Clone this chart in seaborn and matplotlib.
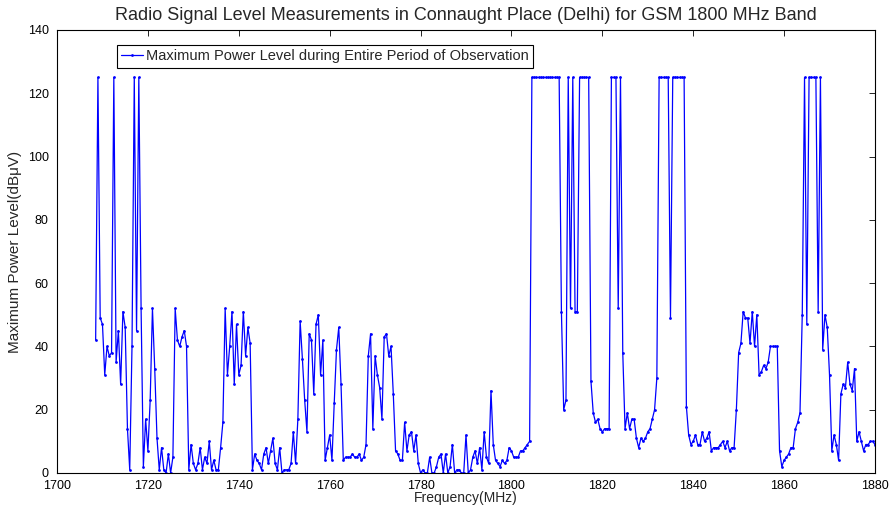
import numpy as np
import pandas as pd
import seaborn as sns
import matplotlib
matplotlib.use("Agg")
import matplotlib.pyplot as plt

# frequency grid (MHz), one reading every 0.5 MHz
freq_start = 1708.5
freq_step = 0.5

# maximum power level (dBuV)
power_dbuv = [
    42, 125, 49,                                   # 1708.5
    47, 31, 40, 37, 38, 125, 35, 45, 28, 51,       # 1710
    46, 14, 1, 40, 125, 45, 125, 52, 2, 17,        # 1715
    7, 23, 52, 33, 11, 1, 8, 1, 0, 6,              # 1720
    0, 5, 52, 42, 40, 43, 45, 40, 1, 9,            # 1725
    3, 1, 3, 8, 1, 5, 3, 10, 1, 4,                 # 1730
    1, 1, 8, 16, 52, 31, 40, 51, 28, 47,           # 1735
    31, 34, 51, 37, 46, 41, 1, 6, 4, 3,            # 1740
    1, 6, 8, 3, 7, 11, 3, 1, 8, 0,                 # 1745
    1, 1, 1, 3, 13, 3, 17, 48, 36, 23,             # 1750
    13, 44, 42, 25, 47, 50, 31, 42, 4, 8,          # 1755
    12, 4, 22, 39, 46, 28, 4, 5, 5, 5,             # 1760
    6, 5, 5, 6, 4, 5, 9, 37, 44, 14,               # 1765
    37, 31, 27, 17, 43, 44, 37, 40, 25, 7,         # 1770
    6, 4, 4, 16, 7, 12, 13, 7, 12, 3,              # 1775
    0, 1, 0, 0, 5, 0, 0, 2, 5, 6,                  # 1780
    0, 6, 0, 2, 9, 0, 1, 1, 0, 0,                  # 1785
    12, 0, 1, 5, 7, 3, 8, 1, 13, 5,                # 1790
    3, 26, 9, 4, 3, 2, 4, 3, 4, 8,                 # 1795
    7, 5, 5, 5, 7, 7, 8, 9, 10, 125,               # 1800
    125, 125, 125, 125, 125, 125, 125, 125, 125, 125,  # 1805
    125, 125, 51, 20, 23, 125, 52, 125, 51, 51,    # 1810
    125, 125, 125, 125, 125, 29, 19, 16, 17, 14,   # 1815
    13, 14, 14, 14, 125, 125, 125, 52, 125, 38,    # 1820
    14, 19, 14, 17, 17, 11, 8, 11, 10, 11,         # 1825
    13, 14, 17, 20, 30, 125, 125, 125, 125, 125,   # 1830
    49, 125, 125, 125, 125, 125, 125, 21, 12, 9,   # 1835
    10, 12, 9, 9, 13, 10, 11, 13, 7, 8,            # 1840
    8, 8, 9, 10, 8, 10, 7, 8, 8, 20,               # 1845
    38, 41, 51, 49, 49, 41, 51, 40, 50, 31,        # 1850
    32, 34, 33, 35, 40, 40, 40, 40, 7, 2,          # 1855
    4, 5, 6, 8, 8, 14, 16, 19, 50, 125,            # 1860
    47, 125, 125, 125, 125, 51, 125, 39, 50, 46,   # 1865
    31, 7, 12, 9, 4, 25, 28, 27, 35, 28,           # 1870
    26, 33, 10, 13, 10, 7, 9, 9, 10, 10,           # 1875
    9,                                             # 1880
]

freq_mhz = freq_start + freq_step * np.arange(len(power_dbuv))
df = pd.DataFrame({"Frequency": freq_mhz, "Power": power_dbuv})

sns.set_theme(style="white")
plt.rcParams["font.family"] = ["Liberation Sans", "DejaVu Sans"]

fig = plt.figure(figsize=(8.91, 5.05), dpi=100)
ax = fig.add_axes([0.064, 0.0634, 0.918, 0.8772])

sns.lineplot(data=df, x="Frequency", y="Power", ax=ax, color="#0000ff",
             linewidth=0.9, marker=".", markersize=4, markeredgewidth=0,
             estimator=None, sort=False,
             label="Maximum Power Level during Entire Period of Observation")

ax.set_xlim(1700, 1880)
ax.set_ylim(0, 140)
ax.set_xticks(np.arange(1700, 1881, 20))
ax.set_yticks(np.arange(0, 141, 20))
ax.tick_params(direction="in", length=4, width=0.6, top=True, right=True,
               labelsize=9, colors="black")
ax.tick_params(axis="x", pad=5)
ax.tick_params(axis="y", pad=6)
for s in ax.spines.values():
    s.set_color("black")
    s.set_linewidth(0.8)

ax.set_title("Radio Signal Level Measurements in Connaught Place (Delhi) for GSM 1800 MHz Band",
             fontsize=13, pad=7)
ax.set_xlabel("Frequency(MHz)", fontsize=10, labelpad=-1)
ax.set_ylabel("Maximum Power Level(dB\u03bcV)", fontsize=11, labelpad=4)

leg = ax.legend(loc="upper left", bbox_to_anchor=(0.073, 0.966), borderaxespad=0,
                fancybox=False, framealpha=1, edgecolor="black", fontsize=10.5,
                handlelength=1.5, handletextpad=0.2, borderpad=0.3)
leg.get_frame().set_linewidth(0.8)

fig.savefig("out.png", dpi=100)
